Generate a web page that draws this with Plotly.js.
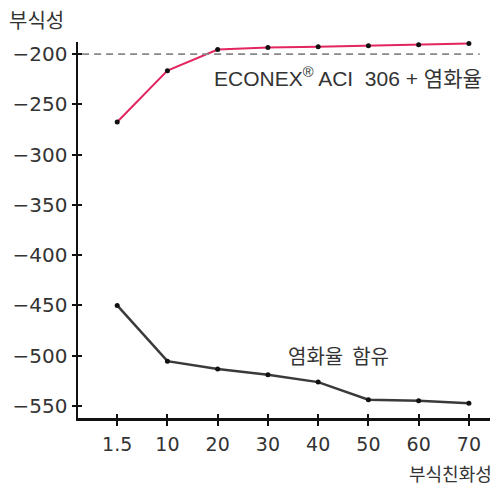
<!DOCTYPE html>
<html>
<head>
<meta charset="utf-8">
<script src="https://cdn.plot.ly/plotly-3.0.1.min.js"></script>
<style>
html,body{margin:0;padding:0;background:#fff;}
#chart{width:499px;height:486px;}
</style>
</head>
<body>
<div id="chart"></div>
<script>
// ---- data ----
const categories = ['1.5', '10', '20', '30', '40', '50', '60', '70'];
const econexValues = [-267.5, -216.5, -195.5, -193.5, -192.8, -191.8, -190.8, -189.5];
const chlorideValues = [-450, -505.5, -513.3, -518.9, -526.3, -543.8, -544.8, -547.3];
const yTickVals = [-200, -250, -300, -350, -400, -450, -500, -550];
const thresholdValue = -200;
const yAxisTitle = '부식성';
const xAxisTitle = '부식친화성';
const econexLabel = 'ECONEX<sup>®</sup> ACI  306 + 염화율';
const chlorideLabel = '염화율  함유';

const FONT = 'DejaVu Sans, "Noto Sans CJK KR", sans-serif';
const KFONT = '"Noto Sans CJK KR", sans-serif';

const traces = [
  {
    x: categories, y: econexValues, type: 'scatter', mode: 'lines+markers',
    line: {color: '#e3265f', width: 2},
    marker: {color: '#111', size: 5},
    hoverinfo: 'skip', cliponaxis: false
  },
  {
    x: categories, y: chlorideValues, type: 'scatter', mode: 'lines+markers',
    xaxis: 'x2', yaxis: 'y2',
    line: {color: '#3a3a3a', width: 2.5},
    marker: {color: '#111', size: 5},
    hoverinfo: 'skip', cliponaxis: false
  }
];

const yRange = [-562, -188];
const xRange = [-0.78, 7.42];

const layout = {
  width: 499, height: 486,
  margin: {l: 78, r: 9, t: 42, b: 68},
  paper_bgcolor: '#fff', plot_bgcolor: '#fff',
  showlegend: false,
  font: {family: FONT, size: 19, color: '#333'},
  xaxis: {
    type: 'category', range: xRange,
    showgrid: false, zeroline: false,
    showline: true, linecolor: '#111', linewidth: 2.5,
    ticks: 'outside', ticklen: 5, tickwidth: 2, tickcolor: '#111',
    tickfont: {family: FONT, size: 19, color: '#333'},
    ticklabelstandoff: 3
  },
  xaxis2: {
    type: 'category', overlaying: 'x', anchor: 'y2', range: xRange,
    showticklabels: false,
    showgrid: false, zeroline: false, showline: false,
    ticks: 'inside', ticklen: 4, tickwidth: 2, tickcolor: '#111'
  },
  yaxis: {
    range: yRange, tickvals: yTickVals,
    showgrid: false, zeroline: false,
    showline: true, linecolor: '#111', linewidth: 2.5,
    ticks: 'outside', ticklen: 4, tickwidth: 2, tickcolor: '#111',
    tickfont: {family: FONT, size: 20, color: '#333'}
  },
  yaxis2: {
    overlaying: 'y', anchor: 'x2', range: yRange, tickvals: yTickVals, showticklabels: false,
    showgrid: false, zeroline: false, showline: false,
    ticks: 'inside', ticklen: 4, tickwidth: 2, tickcolor: '#111'
  },
  shapes: [
    {type: 'line', xref: 'paper', yref: 'y', x0: 0.01, x1: 0.975,
     y0: thresholdValue, y1: thresholdValue,
     line: {color: '#888', width: 1.8, dash: '7px,5px'}}
  ],
  annotations: [
    {text: yAxisTitle, xref: 'paper', yref: 'paper', x: -0.172, y: 1.0,
     xanchor: 'left', yanchor: 'bottom', yshift: 6, showarrow: false,
     font: {family: KFONT, size: 20, color: '#333'}},
    {text: xAxisTitle, xref: 'paper', yref: 'paper', x: 1.01, y: 0,
     xanchor: 'right', yanchor: 'top', yshift: -40, showarrow: false,
     font: {family: KFONT, size: 18, color: '#333'}},
    {text: econexLabel, xref: 'paper', yref: 'paper', x: 0.985, y: (418 - 77) / 376,
     xanchor: 'right', yanchor: 'middle', showarrow: false,
     font: {family: '"Liberation Sans", "Noto Sans CJK KR", sans-serif', size: 21, color: '#333'}},
    {text: chlorideLabel, xref: 'paper', yref: 'paper', x: (286 - 78) / 412, y: (418 - 355) / 376,
     xanchor: 'left', yanchor: 'middle', showarrow: false,
     font: {family: KFONT, size: 20, color: '#333'}}
  ]
};

Plotly.newPlot('chart', traces, layout, {staticPlot: true, displayModeBar: false});
</script>
</body>
</html>
